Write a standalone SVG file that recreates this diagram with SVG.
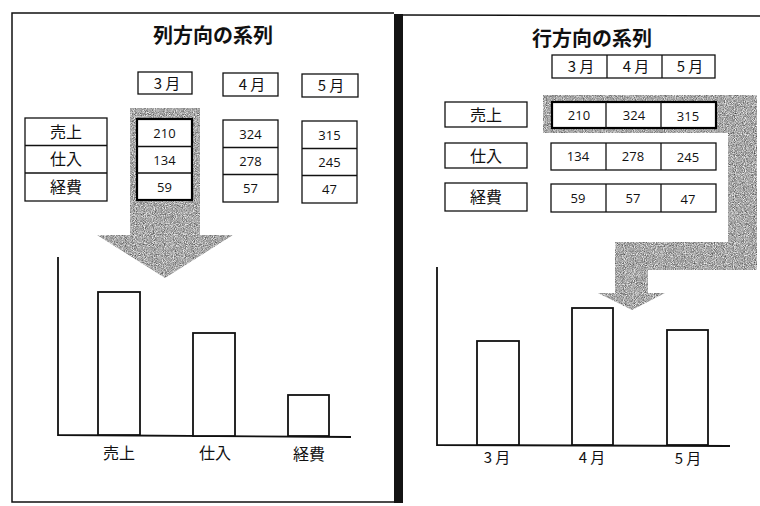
<svg xmlns="http://www.w3.org/2000/svg" width="760" height="506" viewBox="0 0 760 506">
<defs>
<filter id="grain" x="0" y="0" width="1" height="1" color-interpolation-filters="sRGB">
<feTurbulence type="fractalNoise" baseFrequency="1.1" numOctaves="1" seed="7" result="n"/>
<feColorMatrix in="n" type="saturate" values="0" result="g"/>
<feComponentTransfer in="g" result="c">
<feFuncR type="linear" slope="1.4" intercept="-0.04"/>
<feFuncG type="linear" slope="1.4" intercept="-0.04"/>
<feFuncB type="linear" slope="1.4" intercept="-0.04"/>
<feFuncA type="linear" slope="0" intercept="1"/>
</feComponentTransfer>
<feComposite in="c" in2="SourceGraphic" operator="in"/>
</filter>
<style>
.frame{fill:none;stroke:#111;stroke-width:1.5}
.box{fill:#fff;stroke:#111;stroke-width:1.3}
.thick{fill:#fff;stroke:#000;stroke-width:2.2}
.ln{fill:none;stroke:#111;stroke-width:1.3}
.axis{fill:none;stroke:#111;stroke-width:1.8}
.bar{fill:#fff;stroke:#111;stroke-width:1.8}
.arrow{fill:#a6a6a6;filter:url(#grain)}
.title{font-family:"Noto Sans CJK JP",sans-serif;font-size:20px;font-weight:bold;fill:#111;text-anchor:middle}
.jp{font-family:"Noto Sans CJK JP",sans-serif;font-size:16px;fill:#111;text-anchor:middle}
.mon{font-family:"Noto Sans CJK JP",sans-serif;font-size:15px;fill:#111;text-anchor:middle}
.num{font-family:"Open Sans","Noto Sans",sans-serif;font-size:13px;fill:#111;text-anchor:middle}
</style>
</defs>

<!-- panel frames -->
<g id="frames">
<path class="frame" d="M394,13 H12 V502 H394"/>
<rect x="394" y="14" width="9" height="489" fill="#141414"/>
<line class="frame" x1="403" y1="15" x2="760" y2="16"/>
</g>

<!-- left panel: column series -->
<g id="left-title"><text class="title" x="213" y="43">列方向の系列</text></g>

<g id="left-arrow"><polygon class="arrow" points="130,108 200,108 200,235 233,235 165,278 97,235 130,235"/></g>

<g id="left-months">
<rect class="box" x="138" y="72" width="54" height="22"/><text class="mon" x="167" y="89">3 月</text>
<rect class="box" x="223" y="73" width="55" height="23"/><text class="mon" x="252" y="90">4 月</text>
<rect class="box" x="302" y="74" width="56" height="23"/><text class="mon" x="331" y="91">5 月</text>
</g>

<g id="left-rowlabels">
<rect class="box" x="25" y="118" width="82" height="83"/>
<line class="ln" x1="25" y1="145.5" x2="107" y2="145.5"/>
<line class="ln" x1="25" y1="173" x2="107" y2="173"/>
<text class="jp" x="66" y="138">売上</text>
<text class="jp" x="66" y="165">仕入</text>
<text class="jp" x="66" y="193">経費</text>
</g>

<g id="left-col3">
<rect class="thick" x="137" y="119" width="55" height="81"/>
<line class="ln" x1="137" y1="146.5" x2="192" y2="146.5"/>
<line class="ln" x1="137" y1="173" x2="192" y2="173"/>
<text class="num" x="164.5" y="138">210</text>
<text class="num" x="164.5" y="165">134</text>
<text class="num" x="164.5" y="192">59</text>
</g>

<g id="left-col4">
<rect class="box" x="223" y="120" width="55" height="82"/>
<line class="ln" x1="223" y1="147.5" x2="278" y2="147.5"/>
<line class="ln" x1="223" y1="174.5" x2="278" y2="174.5"/>
<text class="num" x="250.5" y="139">324</text>
<text class="num" x="250.5" y="166">278</text>
<text class="num" x="250.5" y="193">57</text>
</g>

<g id="left-col5">
<rect class="box" x="302" y="121" width="55" height="82"/>
<line class="ln" x1="302" y1="148.5" x2="357" y2="148.5"/>
<line class="ln" x1="302" y1="175.5" x2="357" y2="175.5"/>
<text class="num" x="329.5" y="140">315</text>
<text class="num" x="329.5" y="167">245</text>
<text class="num" x="329.5" y="194">47</text>
</g>

<g id="left-chart">
<polyline class="axis" points="58,257 58,435 351,437"/>
<rect class="bar" x="98" y="292" width="42" height="143"/>
<rect class="bar" x="193" y="333" width="42" height="103"/>
<rect class="bar" x="288" y="395" width="41" height="41"/>
<text class="jp" x="119" y="459">売上</text>
<text class="jp" x="215" y="459">仕入</text>
<text class="jp" x="309" y="460">経費</text>
</g>

<!-- right panel: row series -->
<g id="right-title"><text class="title" x="592" y="46">行方向の系列</text></g>

<g id="right-arrow"><path class="arrow" d="M543,95 H757 V270 H648 V293 H665 L632,310 L598,293 H615 V242 H728 V133 H543 Z"/></g>

<g id="right-months">
<rect class="box" x="552" y="55" width="163" height="23"/>
<line class="ln" x1="607" y1="55" x2="607" y2="78"/>
<line class="ln" x1="662" y1="55" x2="662" y2="78"/>
<text class="mon" x="581" y="72">3 月</text>
<text class="mon" x="636" y="72">4 月</text>
<text class="mon" x="690" y="72">5 月</text>
</g>

<g id="right-row1">
<rect class="box" x="445" y="102" width="82" height="25"/>
<text class="jp" x="486" y="121">売上</text>
<rect class="thick" x="552" y="102" width="164" height="26"/>
<line class="ln" x1="606" y1="102" x2="606" y2="128"/>
<line class="ln" x1="661" y1="102" x2="661" y2="128"/>
<text class="num" x="579" y="120">210</text>
<text class="num" x="634" y="120">324</text>
<text class="num" x="688" y="121">315</text>
</g>

<g id="right-row2">
<rect class="box" x="445" y="143" width="82" height="25"/>
<text class="jp" x="486" y="162">仕入</text>
<rect class="box" x="551" y="143" width="165" height="27"/>
<line class="ln" x1="606" y1="143" x2="606" y2="170"/>
<line class="ln" x1="661" y1="143" x2="661" y2="170"/>
<text class="num" x="578" y="161">134</text>
<text class="num" x="633" y="161">278</text>
<text class="num" x="688" y="162">245</text>
</g>

<g id="right-row3">
<rect class="box" x="445" y="183" width="82" height="28"/>
<text class="jp" x="486" y="203">経費</text>
<rect class="box" x="551" y="184" width="165" height="28"/>
<line class="ln" x1="606" y1="184" x2="606" y2="212"/>
<line class="ln" x1="661" y1="184" x2="661" y2="212"/>
<text class="num" x="578" y="203">59</text>
<text class="num" x="633" y="203">57</text>
<text class="num" x="688" y="204">47</text>
</g>

<g id="right-chart">
<polyline class="axis" points="437,267 437,445 730,446"/>
<rect class="bar" x="477" y="341" width="42" height="104"/>
<rect class="bar" x="572" y="308" width="41" height="137"/>
<rect class="bar" x="667" y="330" width="41" height="115"/>
<text class="mon" x="497" y="463">3 月</text>
<text class="mon" x="592" y="463">4 月</text>
<text class="mon" x="688" y="464">5 月</text>
</g>
</svg>
